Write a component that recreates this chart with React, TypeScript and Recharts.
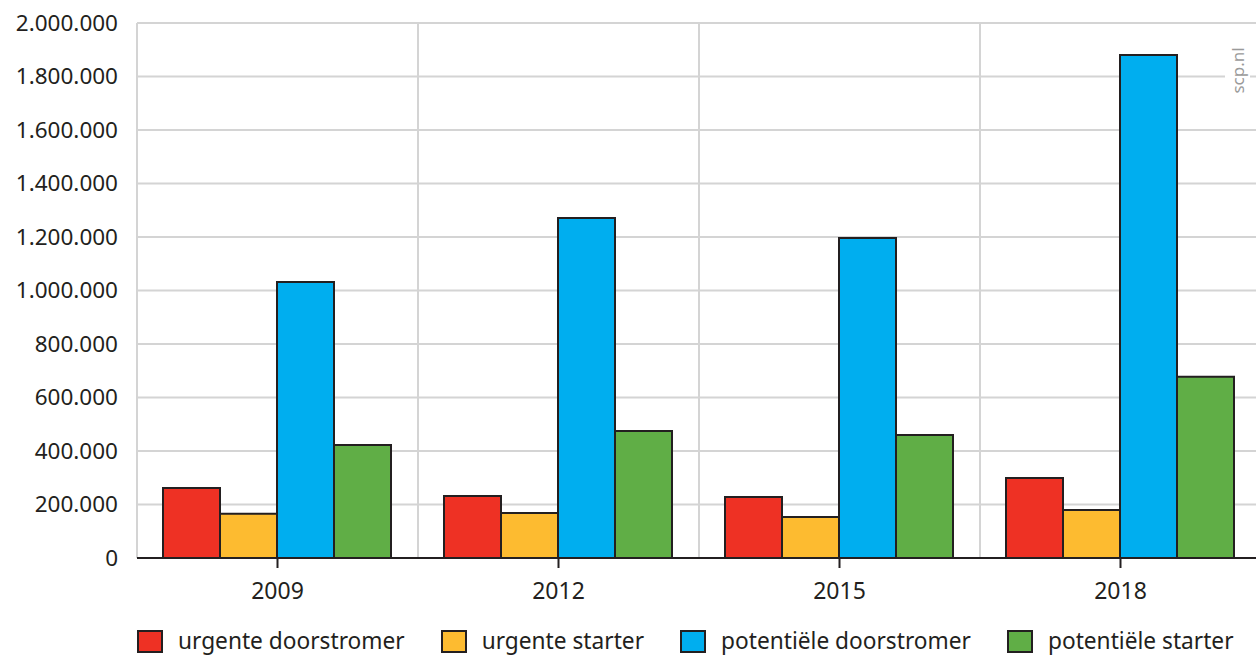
import { BarChart, Bar, XAxis, YAxis, CartesianGrid, ReferenceLine } from 'recharts'

const jaren = ['2009', '2012', '2015', '2018']
const urgenteDoorstromer = [262000, 232000, 228000, 299000]
const urgenteStarter = [165000, 168000, 153000, 179000]
const potentieleDoorstromer = [1032000, 1271000, 1196000, 1880000]
const potentieleStarter = [422000, 475000, 460000, 678000]
const yTicks = [0, 200000, 400000, 600000, 800000, 1000000, 1200000, 1400000, 1600000, 1800000, 2000000]

const series = [
  { key: 'ud', naam: 'urgente doorstromer', kleur: '#EE3124' },
  { key: 'us', naam: 'urgente starter', kleur: '#FDBB30' },
  { key: 'pd', naam: 'potentiële doorstromer', kleur: '#00AEEF' },
  { key: 'ps', naam: 'potentiële starter', kleur: '#60AE46' }
]

const data = jaren.map((jaar, i) => ({
  jaar,
  ud: urgenteDoorstromer[i],
  us: urgenteStarter[i],
  pd: potentieleDoorstromer[i],
  ps: potentieleStarter[i]
}))

const font = '"Noto Sans", "Open Sans", sans-serif'
const tekst = '#231f20'

const formatNL = (v: number) => String(v).replace(/\B(?=(\d{3})+(?!\d))/g, '.')

export default function App() {
  return (
    <div style={{ position: 'absolute', left: 0, top: 0, width: 1256, height: 655, overflow: 'hidden', background: '#fff', fontFamily: font }}>
      <BarChart
        width={1264}
        height={655}
        data={data}
        margin={{ top: 23, right: 3, left: 0, bottom: 57 }}
        barCategoryGap={26}
        barGap={0}
      >
        <CartesianGrid vertical={false} stroke="#d4d4d4" strokeWidth={2} />
        <YAxis
          width={137}
          domain={[0, 2000000]}
          ticks={yTicks}
          tickFormatter={formatNL}
          tickLine={false}
          axisLine={false}
          tickMargin={13}
          tick={{ fill: tekst, fontSize: 22.5, fontFamily: font }}
        />
        <XAxis
          dataKey="jaar"
          height={40}
          tickSize={10}
          tickMargin={15}
          tickLine={{ stroke: tekst, strokeWidth: 2 }}
          axisLine={{ stroke: tekst, strokeWidth: 2 }}
          tick={{ fill: tekst, fontSize: 23, fontFamily: font }}
        />
        {/* verticale lijnen op de grenzen tussen de jaren */}
        {jaren.map(j => (
          <ReferenceLine key={j} x={j} position="start" stroke="#d4d4d4" strokeWidth={2} />
        ))}
        {series.map(s => (
          <Bar key={s.key} dataKey={s.key} name={s.naam} fill={s.kleur} stroke={tekst} strokeWidth={2} isAnimationActive={false} />
        ))}
      </BarChart>
      <div
        style={{
          position: 'absolute',
          left: 1225,
          top: 40,
          width: 25,
          height: 60,
          background: '#fff',
          display: 'flex',
          alignItems: 'center',
          justifyContent: 'center'
        }}
      >
        <span style={{ transform: 'rotate(-90deg)', color: '#9a9a9a', fontSize: 17, whiteSpace: 'nowrap' }}>scp.nl</span>
      </div>
      <div
        style={{
          position: 'absolute',
          left: 137,
          top: 627,
          height: 28,
          lineHeight: '28px',
          display: 'flex',
          gap: 36,
          alignItems: 'center',
          fontSize: 22.7,
          color: tekst
        }}
      >
        {series.map(s => (
          <div key={s.key} style={{ display: 'flex', alignItems: 'center' }}>
            <span style={{ display: 'inline-block', width: 22, height: 19, background: s.kleur, border: `2px solid ${tekst}`, marginRight: 15 }} />
            <span>{s.naam}</span>
          </div>
        ))}
      </div>
    </div>
  )
}
